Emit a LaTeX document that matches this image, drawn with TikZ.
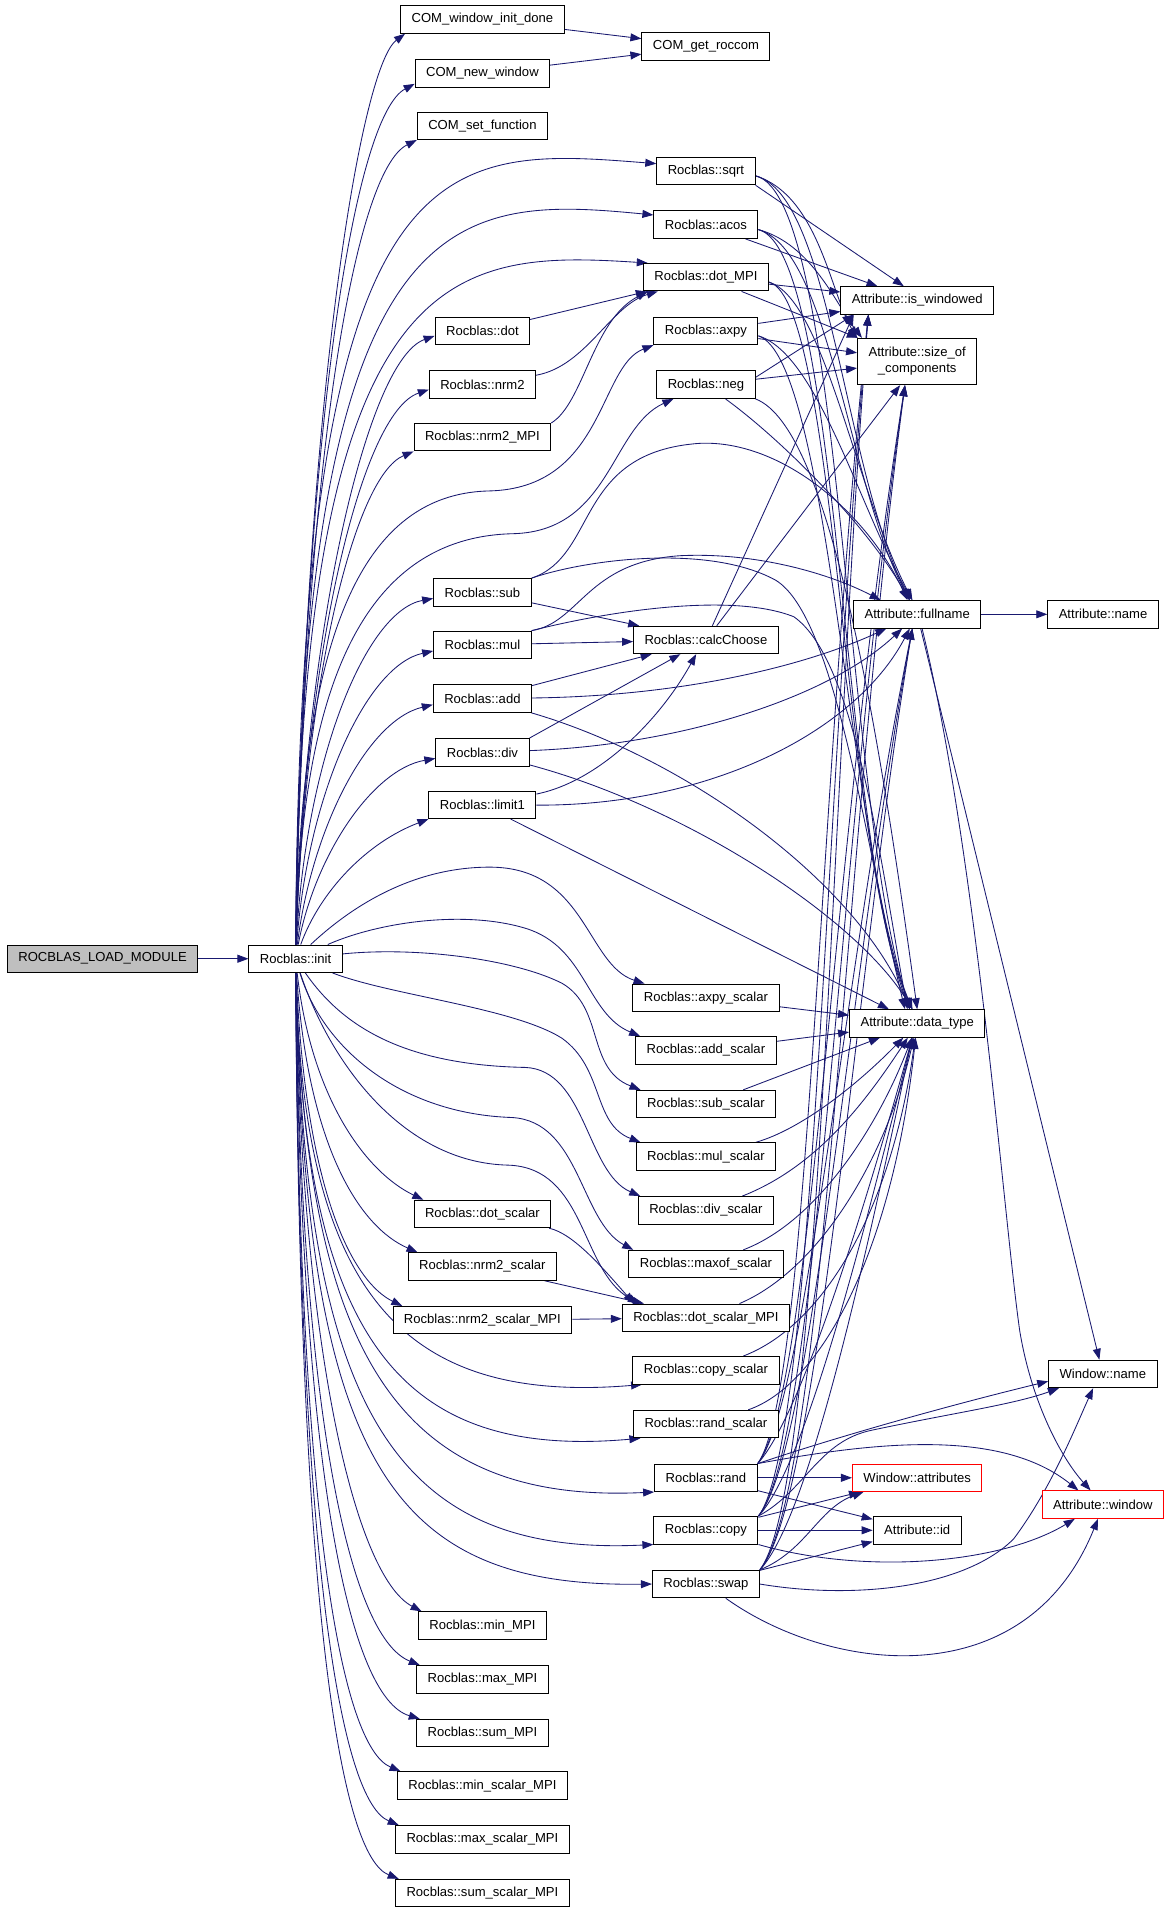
\documentclass[tikz,border=0pt]{standalone}
\usepackage{fontspec}
\setmainfont{Liberation Sans}
\usepackage{tikz}
\usetikzlibrary{positioning,arrows.meta,backgrounds}
\definecolor{edgeblue}{HTML}{191970}
\definecolor{rootgray}{HTML}{BFBFBF}

\begin{document}
\begin{tikzpicture}[x=1pt,y=-1pt,>={Triangle[length=9pt,width=6.5pt]},
  func node/.style={rectangle,draw=black,fill=white,line width=0.8pt,inner xsep=9pt,inner ysep=2pt,minimum height=22.5pt,font=\fontsize{10.7}{13}\selectfont},
  root node/.style={func node,fill=rootgray},
  miss node/.style={func node,draw=red},
  call edge/.style={->,draw=edgeblue,line width=0.7pt}]
  \path[use as bounding box] (0,0) rectangle (959,1568);

  \node[root node] (load) at (84,785) {ROCBLAS\_LOAD\_MODULE};
  \node[func node] (init) at (242,785) {Rocblas::init};
  \node[func node] (winit) at (395,16) {COM\_window\_init\_done};
  \node[func node] (roccom) at (578,38) {COM\_get\_roccom};
  \node[func node] (newwin) at (395,60) {COM\_new\_window};
  \node[func node] (setfn) at (395,103) {COM\_set\_function};
  \node[func node] (sqrt) at (578,140) {Rocblas::sqrt};
  \node[func node] (acos) at (578,184) {Rocblas::acos};
  \node[func node] (dotmpi) at (578,227) {Rocblas::dot\_MPI};
  \node[func node] (iswin) at (751,246) {Attribute::is\_windowed};
  \node[func node] (dot) at (395,271) {Rocblas::dot};
  \node[func node] (axpy) at (578,271) {Rocblas::axpy};
  \node[func node,align=center,minimum height=38pt] (sizeof) at (751,296) {Attribute::size\_of\\\_components};
  \node[func node] (nrm2) at (395,315) {Rocblas::nrm2};
  \node[func node] (neg) at (578,315) {Rocblas::neg};
  \node[func node] (nrm2mpi) at (395,358) {Rocblas::nrm2\_MPI};
  \node[func node] (sub) at (395,485) {Rocblas::sub};
  \node[func node] (fullname) at (751,503) {Attribute::fullname};
  \node[func node,right=54pt of fullname] (aname) {Attribute::name};
  \node[func node] (calc) at (578,524) {Rocblas::calcChoose};
  \node[func node] (mul) at (395,528) {Rocblas::mul};
  \node[func node] (add) at (395,572) {Rocblas::add};
  \node[func node] (div) at (395,616) {Rocblas::div};
  \node[func node] (limit) at (395,659) {Rocblas::limit1};
  \node[func node] (axpys) at (578,817) {Rocblas::axpy\_scalar};
  \node[func node] (dtype) at (751,838) {Attribute::data\_type};
  \node[func node] (adds) at (578,860) {Rocblas::add\_scalar};
  \node[func node] (subs) at (578,904) {Rocblas::sub\_scalar};
  \node[func node] (muls) at (578,947) {Rocblas::mul\_scalar};
  \node[func node] (divs) at (578,991) {Rocblas::div\_scalar};
  \node[func node] (dots) at (395,994) {Rocblas::dot\_scalar};
  \node[func node] (maxofs) at (578,1035) {Rocblas::maxof\_scalar};
  \node[func node] (nrm2s) at (395,1037) {Rocblas::nrm2\_scalar};
  \node[func node] (nrm2smpi) at (395,1081) {Rocblas::nrm2\_scalar\_MPI};
  \node[func node] (dotsmpi) at (578,1079) {Rocblas::dot\_scalar\_MPI};
  \node[func node] (copys) at (578,1122) {Rocblas::copy\_scalar};
  \node[func node] (wname) at (903,1125) {Window::name};
  \node[func node] (rands) at (578,1166) {Rocblas::rand\_scalar};
  \node[func node] (rand) at (578,1210) {Rocblas::rand};
  \node[miss node] (wattr) at (751,1210) {Window::attributes};
  \node[miss node] (awin) at (903,1232) {Attribute::window};
  \node[func node] (copy) at (578,1253) {Rocblas::copy};
  \node[func node] (aid) at (751,1253) {Attribute::id};
  \node[func node] (swap) at (578,1297) {Rocblas::swap};
  \node[func node] (minmpi) at (395,1331) {Rocblas::min\_MPI};
  \node[func node] (maxmpi) at (395,1375) {Rocblas::max\_MPI};
  \node[func node] (summpi) at (395,1419) {Rocblas::sum\_MPI};
  \node[func node] (minsmpi) at (395,1462) {Rocblas::min\_scalar\_MPI};
  \node[func node] (maxsmpi) at (395,1506) {Rocblas::max\_scalar\_MPI};
  \node[func node] (sumsmpi) at (395,1550) {Rocblas::sum\_scalar\_MPI};

  \begin{scope}[on background layer]
  \fill[white] (0,0) rectangle (959,1568);
  \draw[call edge] (load) -- (init);

  % init, upward
  \draw[call edge] (init) .. controls (249,330) and (295,55) .. ([xshift=4pt]winit.south west);
  \draw[call edge] (init) .. controls (249,350) and (290,95) .. ([yshift=3pt]newwin.south west);
  \draw[call edge] (init) .. controls (249,380) and (290,140) .. (setfn.south west);
  \draw[call edge] (init) .. controls (246,110) and (360,120) .. ([yshift=6pt]sqrt.west);
  \draw[call edge] (init) .. controls (246,160) and (370,160) .. ([yshift=8pt]acos.west);
  \draw[call edge] (init) .. controls (246,210) and (370,205) .. ([xshift=4pt]dotmpi.north west);
  \draw[call edge] (init) .. controls (249,520) and (300,295) .. ([yshift=-4pt]dot.west);
  \draw[call edge] (init) .. controls (249,540) and (295,338) .. ([yshift=-4pt]nrm2.west);
  \draw[call edge] (init) .. controls (249,560) and (290,390) .. (nrm2mpi.south west);
  \draw[call edge] (init) .. controls (246,560) and (280,405) .. (400,402) .. controls (495,400) and (490,300) .. (axpy.south west);
  \draw[call edge] (init) .. controls (246,600) and (280,440) .. (420,437) .. controls (500,435) and (500,350) .. ([xshift=14pt]neg.south west);
  \draw[call edge] (init) .. controls (250,620) and (300,500) .. ([yshift=-5pt]sub.west);
  \draw[call edge] (init) .. controls (252,650) and (300,545) .. ([yshift=-5pt]mul.west);
  \draw[call edge] (init) .. controls (255,680) and (300,590) .. ([yshift=-5pt]add.west);
  \draw[call edge] (init) .. controls (258,700) and (305,630) .. ([yshift=-5pt]div.west);
  \draw[call edge] (init) .. controls (262,730) and (300,690) .. (limit.south west);

  % init, downward
  \draw[call edge] (init) .. controls (290,740) and (340,710) .. (401,710) .. controls (480,710) and (480,790) .. ([xshift=10pt]axpys.north west);
  \draw[call edge] (init) .. controls (310,755) and (380,745) .. (430,760) .. controls (480,775) and (480,830) .. ([xshift=4pt]adds.north west);
  \draw[call edge] (init) .. controls (340,775) and (420,785) .. (460,805) .. controls (495,825) and (480,875) .. ([xshift=4pt]subs.north west);
  \draw[call edge] (init) .. controls (320,815) and (420,825) .. (460,850) .. controls (495,875) and (485,920) .. ([xshift=4pt]muls.north west);
  \draw[call edge] (init) .. controls (280,840) and (330,872) .. (430,874) .. controls (480,876) and (480,960) .. ([xshift=2pt]divs.north west);
  \draw[call edge] (init) .. controls (265,860) and (330,912) .. (419,915) .. controls (475,918) and (475,1000) .. ([xshift=4pt]maxofs.north west);
  \draw[call edge] (init) .. controls (255,900) and (300,960) .. ([xshift=8pt]dots.north west);
  \draw[call edge] (init) .. controls (252,940) and (295,1005) .. ([xshift=8pt]nrm2s.north west);
  \draw[call edge] (init) .. controls (250,980) and (290,1050) .. ([xshift=8pt]nrm2smpi.north west);
  \draw[call edge] (init) .. controls (270,870) and (330,952) .. (416,954) .. controls (480,956) and (475,1040) .. ([xshift=14pt]dotsmpi.north west);
  \draw[call edge] (init) .. controls (248,1060) and (330,1150) .. ([xshift=8pt]copys.south west);
  \draw[call edge] (init) .. controls (248,1100) and (330,1195) .. ([xshift=6pt]rands.south west);
  \draw[call edge] (init) .. controls (250,1100) and (320,1232) .. (rand.south west);
  \draw[call edge] (init) .. controls (249,1150) and (320,1275) .. (copy.south west);
  \draw[call edge] (init) .. controls (250,1200) and (320,1300) .. (swap.west);
  \draw[call edge] (init) .. controls (246,1100) and (290,1290) .. ([xshift=3pt]minmpi.north west);
  \draw[call edge] (init) .. controls (246,1150) and (285,1340) .. ([xshift=3pt]maxmpi.north west);
  \draw[call edge] (init) .. controls (246,1200) and (285,1390) .. ([xshift=3pt]summpi.north west);
  \draw[call edge] (init) .. controls (245,1250) and (280,1430) .. ([xshift=3pt]minsmpi.north west);
  \draw[call edge] (init) .. controls (245,1290) and (280,1475) .. ([xshift=3pt]maxsmpi.north west);
  \draw[call edge] (init) .. controls (245,1330) and (280,1520) .. ([xshift=3pt]sumsmpi.north west);

  \draw[call edge] (winit) -- (roccom);
  \draw[call edge] (newwin) -- (roccom);
  \draw[call edge] (dot) -- (dotmpi);
  \draw[call edge] (nrm2) .. controls (480,300) and (500,250) .. (dotmpi);
  \draw[call edge] (nrm2mpi.north east) .. controls (478,330) and (485,262) .. ([xshift=4pt]dotmpi.south west);

  \draw[call edge] (sub) -- (calc);
  \draw[call edge] (mul) -- (calc);
  \draw[call edge] (add) -- (calc);
  \draw[call edge] (div.north east) -- (calc);
  \draw[call edge] (limit) .. controls (490,640) and (540,590) .. ([xshift=-8pt]calc.south);
  \draw[call edge] (sub.north east) .. controls (490,455) and (470,370) .. (573,363) .. controls (640,360) and (710,420) .. ([xshift=-8pt]fullname.north);
  \draw[call edge] (sub.north east) .. controls (480,458) and (580,445) .. (635,475) .. controls (685,505) and (710,700) .. ([xshift=-10pt]dtype.north);
  \draw[call edge] (mul.north east) .. controls (475,510) and (480,460) .. (557,455) .. controls (620,452) and (680,470) .. ([xshift=-30pt]fullname.north);
  \draw[call edge] (mul.north east) .. controls (500,500) and (600,485) .. (650,505) .. controls (700,540) and (720,700) .. ([xshift=-8pt]dtype.north);
  \draw[call edge] (add) .. controls (560,570) and (660,545) .. (fullname);
  \draw[call edge] (add) .. controls (560,620) and (700,720) .. ([xshift=-6pt]dtype.north);
  \draw[call edge] (div) .. controls (560,610) and (680,570) .. (fullname);
  \draw[call edge] (div) .. controls (560,660) and (700,750) .. ([xshift=-4pt]dtype.north);
  \draw[call edge] (limit) .. controls (580,660) and (700,600) .. (fullname);
  \draw[call edge] (limit) -- (dtype);
  \draw[call edge] (calc) -- ([xshift=-52pt]iswin.south);
  \draw[call edge] (calc) -- ([xshift=-14pt]sizeof.south);

  % math kernels into the attribute helpers
  \draw[call edge] (sqrt.south east) -- ([xshift=-11pt]iswin.north);
  \draw[call edge] ([yshift=-4pt]sqrt.east) .. controls (670,160) and (680,240) .. (sizeof.north west);
  \draw[call edge] ([yshift=-4pt]sqrt.east) .. controls (680,160) and (690,380) .. ([xshift=-6pt]fullname.north);
  \draw[call edge] ([yshift=-4pt]sqrt.east) .. controls (690,160) and (690,650) .. ([xshift=-6pt]dtype.north);
  \draw[call edge] (acos) -- (iswin);
  \draw[call edge] ([yshift=-4pt]acos.east) .. controls (665,200) and (685,250) .. ([xshift=4pt]sizeof.north west);
  \draw[call edge] ([yshift=-4pt]acos.east) .. controls (680,205) and (695,400) .. ([xshift=-6pt]fullname.north);
  \draw[call edge] ([yshift=-4pt]acos.east) .. controls (688,205) and (688,680) .. ([xshift=-6pt]dtype.north);
  \draw[call edge] (dotmpi) -- (iswin);
  \draw[call edge] (dotmpi) -- (sizeof);
  \draw[call edge] ([yshift=-4pt]dotmpi.east) .. controls (675,245) and (700,400) .. ([xshift=-4pt]fullname.north);
  \draw[call edge] ([yshift=-4pt]dotmpi.east) .. controls (685,245) and (690,700) .. ([xshift=-4pt]dtype.north);
  \draw[call edge] (axpy) -- (iswin);
  \draw[call edge] (axpy) -- (sizeof);
  \draw[call edge] ([yshift=-4pt]axpy.east) .. controls (670,290) and (705,420) .. ([xshift=-4pt]fullname.north);
  \draw[call edge] ([yshift=-4pt]axpy.east) .. controls (680,295) and (695,700) .. ([xshift=-4pt]dtype.north);
  \draw[call edge] ([yshift=6pt]neg.east) -- ([xshift=-52pt]iswin.south);
  \draw[call edge] (neg) -- (sizeof);
  \draw[call edge] (neg) .. controls (640,360) and (710,430) .. (fullname);
  \draw[call edge] (neg.south east) .. controls (680,350) and (720,600) .. (dtype.north);

  % scalar versions
  \draw[call edge] (axpys) -- (dtype);
  \draw[call edge] (adds) -- (dtype);
  \draw[call edge] (subs) -- (dtype);
  \draw[call edge] (muls) .. controls (655,925) and (700,890) .. (dtype);
  \draw[call edge] (divs) .. controls (670,955) and (710,900) .. (dtype);
  \draw[call edge] (maxofs) .. controls (670,1000) and (720,920) .. (dtype);
  \draw[call edge] (dotsmpi) .. controls (670,1040) and (725,950) .. (dtype);
  \draw[call edge] (copys) .. controls (675,1085) and (730,990) .. (dtype);
  \draw[call edge] (rands) .. controls (670,1135) and (730,1030) .. (dtype);
  \draw[call edge] (dots) .. controls (470,1010) and (495,1040) .. ([xshift=10pt]dotsmpi.north west);
  \draw[call edge] (nrm2s) -- (dotsmpi);
  \draw[call edge] (nrm2smpi) -- (dotsmpi);

  % rand, copy, swap
  \draw[call edge] (rand.north east) .. controls (655,1160) and (705,1000) .. ([xshift=-4pt]dtype.south);
  \draw[call edge] (rand.north east) .. controls (660,1150) and (690,800) .. ([xshift=-4pt]fullname.south);
  \draw[call edge] (rand.north east) .. controls (665,1140) and (680,700) .. ([xshift=-10pt]sizeof.south);
  \draw[call edge] (rand.north east) .. controls (662,1140) and (670,650) .. ([xshift=-40pt]iswin.south);
  \draw[call edge] (rand) -- (wattr);
  \draw[call edge] (rand) -- (aid);
  \draw[call edge] (rand.north east) .. controls (690,1175) and (780,1150) .. ([yshift=-6pt]wname.west);
  \draw[call edge] (rand.north east) .. controls (720,1180) and (820,1170) .. ([xshift=-20pt]awin.north);
  \draw[call edge] (copy.north east) .. controls (660,1200) and (710,1000) .. ([xshift=-4pt]dtype.south);
  \draw[call edge] (copy.north east) .. controls (665,1190) and (695,800) .. ([xshift=-4pt]fullname.south);
  \draw[call edge] (copy.north east) .. controls (670,1180) and (685,700) .. ([xshift=-10pt]sizeof.south);
  \draw[call edge] (copy.north east) .. controls (667,1180) and (675,650) .. ([xshift=-40pt]iswin.south);
  \draw[call edge] (copy) -- (wattr);
  \draw[call edge] (copy) -- (aid);
  \draw[call edge] (copy.north east) .. controls (660,1220) and (670,1180) .. (714,1171) .. controls (780,1157) and (830,1150) .. ([xshift=-36pt]wname.south);
  \draw[call edge] (copy.south east) .. controls (710,1290) and (820,1280) .. ([xshift=-23pt]awin.south);
  \draw[call edge] (swap.north east) .. controls (665,1240) and (715,1000) .. ([xshift=-4pt]dtype.south);
  \draw[call edge] (swap.north east) .. controls (670,1230) and (700,800) .. ([xshift=-4pt]fullname.south);
  \draw[call edge] (swap.north east) .. controls (675,1220) and (690,700) .. ([xshift=-10pt]sizeof.south);
  \draw[call edge] (swap.north east) .. controls (672,1220) and (680,650) .. ([xshift=-40pt]iswin.south);
  \draw[call edge] (swap) -- (aid);
  \draw[call edge] (swap.north east) .. controls (660,1270) and (670,1235) .. ([xshift=-44pt]wattr.south);
  \draw[call edge] (swap.east) .. controls (700,1310) and (790,1300) .. (830,1260) .. controls (860,1220) and (880,1170) .. ([xshift=-8pt]wname.south);
  \draw[call edge] (swap) .. controls (680,1370) and (840,1390) .. ([xshift=-4pt]awin.south);

  \draw[call edge] (fullname) -- (aname);
  \draw[call edge] (fullname) -- (wname);
  \draw[call edge] ([xshift=4pt]fullname.south) .. controls (800,700) and (822,1000) .. (835,1090) .. controls (845,1150) and (870,1195) .. ([xshift=-10pt]awin.north);
  \end{scope}
\end{tikzpicture}
\end{document}
